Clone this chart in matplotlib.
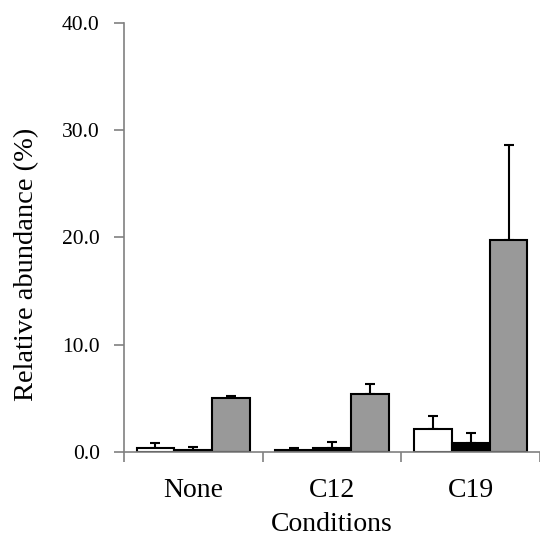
import matplotlib
matplotlib.use("Agg")
import matplotlib.pyplot as plt
import numpy as np

plt.rcParams['font.family'] = ['Liberation Serif', 'DejaVu Serif']

categories = ["None", "C12", "C19"]
white_vals = [0.4, 0.2, 2.1]
white_err = [0.4, 0.2, 1.3]
black_vals = [0.2, 0.4, 0.8]
black_err = [0.25, 0.55, 1.0]
gray_vals = [5.05, 5.45, 19.8]
gray_err = [0.2, 0.9, 8.8]
y_ticks = [0, 10, 20, 30, 40]

fig = plt.figure(figsize=(5.40, 5.39), dpi=100)
ax = fig.add_axes([124/540, 1 - 452/539, 416/540, 429/539])

x = np.arange(len(categories))
w = 0.273
series = [(white_vals, white_err, "white", -w),
          (black_vals, black_err, "black", 0),
          (gray_vals, gray_err, "#999999", w)]
for vals, err, col, off in series:
    ax.bar(x + off, vals, width=w, color=col, edgecolor="black", linewidth=1.5, zorder=2)
    ax.errorbar(x + off, vals, yerr=[np.zeros(len(vals)), err], fmt="none",
                ecolor="black", elinewidth=1.5, capsize=3.5, capthick=1.5, zorder=1)

ax.set_xlim(-0.5, 2.5)
ax.set_ylim(0, 40)
ax.set_yticks(y_ticks)
ax.set_yticklabels([f"{t:.1f}" for t in y_ticks], fontsize=15.5)
ax.set_xticks([-0.5, 0.5, 1.5, 2.5])
ax.set_xticklabels([])
ax.set_xticks(x, minor=True)
ax.set_xticklabels(categories, minor=True, fontsize=20)
ax.tick_params(axis="x", which="minor", length=0, pad=18.5)
ax.tick_params(axis="x", which="major", direction="out", length=7, width=1.2, color="#808080")
ax.tick_params(axis="y", direction="out", length=7, width=1.2, color="#808080", pad=10.5)

for s in ["top", "right"]:
    ax.spines[s].set_visible(False)
for s in ["left", "bottom"]:
    ax.spines[s].set_color("#808080")
    ax.spines[s].set_linewidth(1.2)

ax.set_ylabel("Relative abundance (%)", fontsize=20.5)
ax.yaxis.set_label_coords(27/540, 1 - 264/539, transform=fig.transFigure)
ax.yaxis.label.set_verticalalignment("center")
ax.set_xlabel("Conditions", fontsize=20, labelpad=6.5)

fig.savefig("out.png", dpi=100)
